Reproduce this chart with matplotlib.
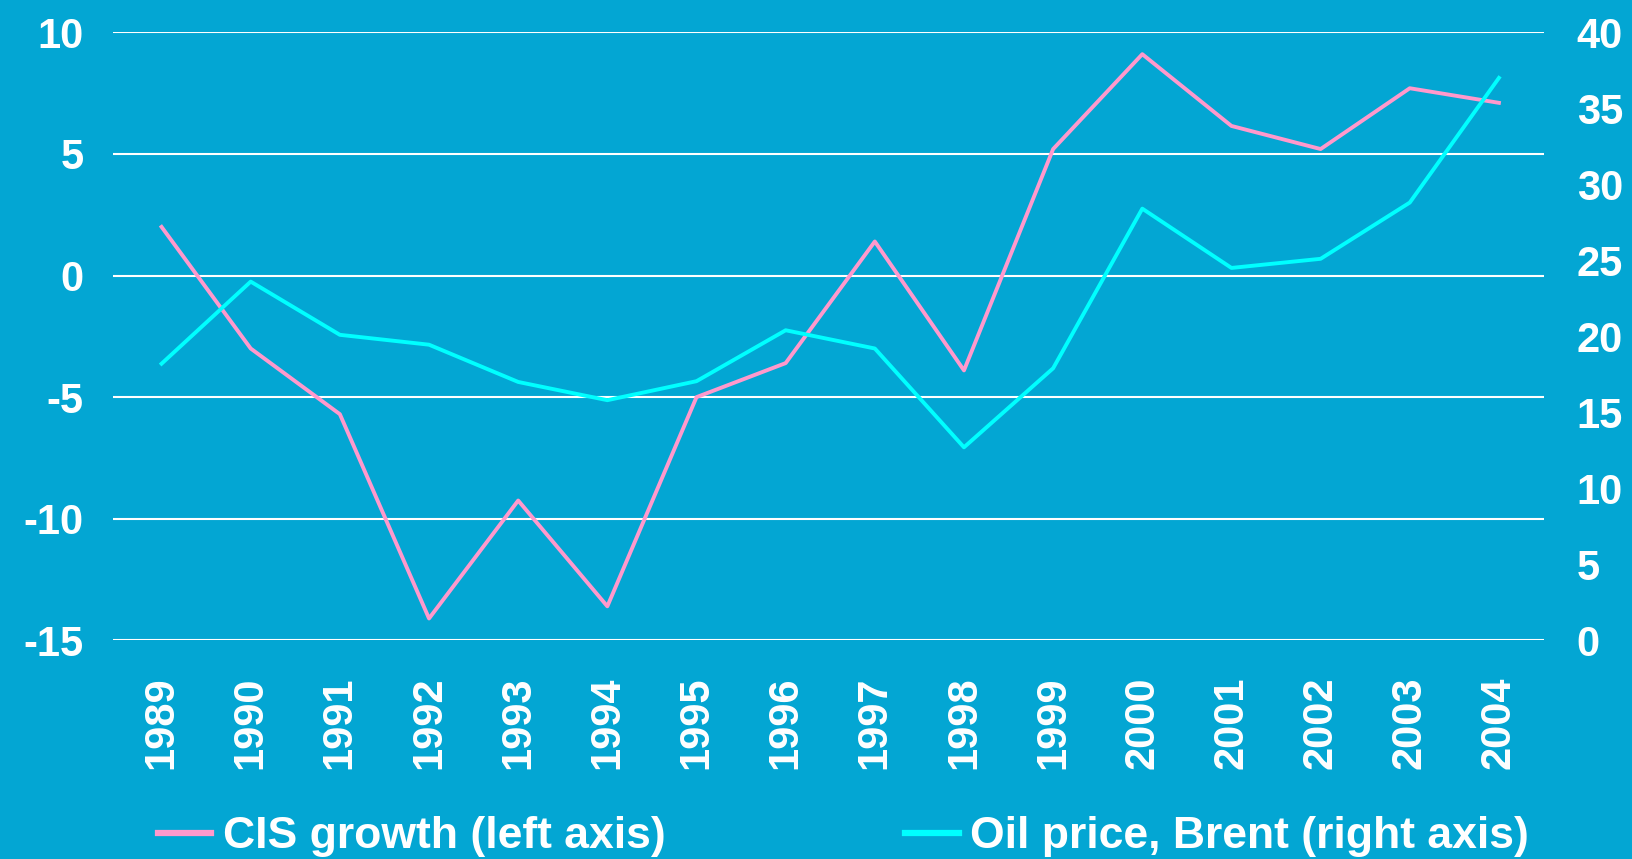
import matplotlib
matplotlib.use("Agg")
import matplotlib.pyplot as plt
from matplotlib.lines import Line2D

years = ["1989", "1990", "1991", "1992", "1993", "1994", "1995", "1996",
         "1997", "1998", "1999", "2000", "2001", "2002", "2003", "2004"]
cis_growth = [2.0, -3.0, -5.7, -14.1, -9.25, -13.6, -5.0, -3.6,
              1.4, -3.9, 5.2, 9.1, 6.15, 5.2, 7.7, 7.1]
oil_price = [18.2, 23.6, 20.1, 19.45, 17.0, 15.8, 17.05, 20.4,
             19.2, 12.7, 17.9, 28.4, 24.5, 25.1, 28.8, 37.0]
left_ticks = [-15, -10, -5, 0, 5, 10]
right_ticks = [0, 5, 10, 15, 20, 25, 30, 35, 40]

BG = "#03A6D3"
PINK = "#FF99CC"
CYAN = "#00FFFF"

plt.rcParams['font.family'] = ['Liberation Sans', 'DejaVu Sans']
plt.rcParams['font.weight'] = 'bold'

fig = plt.figure(figsize=(16.33, 8.59), dpi=100, facecolor=BG)
ax = fig.add_axes([0.0689, 0.2545, 0.8763, 0.7079])
ax.set_facecolor(BG)
ax2 = ax.twinx()

x = list(range(len(years)))
ax.plot(x, cis_growth, color=PINK, lw=2.8, clip_on=False, zorder=3)
ax2.plot(x, oil_price, color=CYAN, lw=2.8, clip_on=False, zorder=3)

ax.set_xlim(-0.55, len(years) - 0.5)
ax.set_ylim(-15, 10)
ax2.set_ylim(0, 40)
ax.set_yticks(left_ticks)
ax.set_yticklabels([str(t) for t in left_ticks])
ax2.set_yticks(right_ticks)
ax2.set_yticklabels([str(t) for t in right_ticks])
ax.set_xticks(x)
ax.set_xticklabels(years, rotation=90)

ax.grid(axis='y', color='white', lw=1.5)
ax.set_axisbelow(True)

for a in (ax, ax2):
    for s in a.spines.values():
        s.set_visible(False)
    a.tick_params(length=0, colors='white')

ax.tick_params(axis='y', labelsize=30, pad=21)
ax2.tick_params(axis='y', labelsize=30, pad=24)
ax.tick_params(axis='x', labelsize=30, pad=26)

handles = [Line2D([], [], color=PINK, lw=4.5),
           Line2D([], [], color=CYAN, lw=4.5)]
labels = ["CIS growth (left axis)", "Oil price, Brent (right axis)"]
leg = fig.legend(handles, labels, loc='center left', bbox_to_anchor=(0.0968, 0.026),
                 ncol=2, frameon=False, fontsize=32, handlelength=1.2,
                 handletextpad=0.25, columnspacing=5.4, borderpad=0, borderaxespad=0)
for t in leg.get_texts():
    t.set_color('white')

fig.savefig("out.png", dpi=100, facecolor=BG)
